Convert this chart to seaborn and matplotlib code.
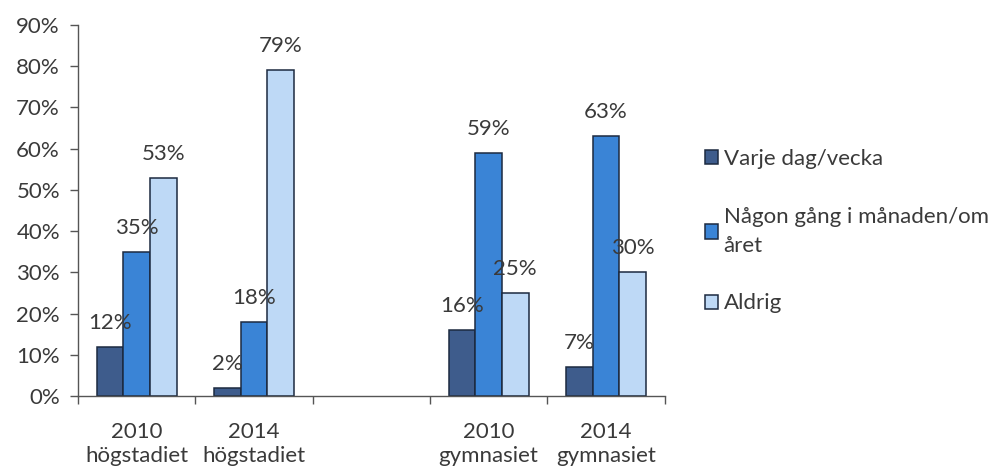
#!/usr/bin/env python3

import pandas as pd
import seaborn as sns
import matplotlib.pyplot as plt
from matplotlib.ticker import FixedLocator

# categories along the x axis (the blank one is the gap between the school levels)
categories = ["2010\nhögstadiet", "2014\nhögstadiet", " ", "2010\ngymnasiet", "2014\ngymnasiet"]
series = ["Varje dag/vecka", "Någon gång i månaden/om\nåret", "Aldrig"]

# percent per series, one value per non-empty category
varje = [12, 2, 16, 7]
nagon = [35, 18, 59, 63]
aldrig = [53, 79, 25, 30]
filled = ["2010\nhögstadiet", "2014\nhögstadiet", "2010\ngymnasiet", "2014\ngymnasiet"]

colors = ["#3e5c8c", "#3a84d6", "#bed9f6"]
text_color = "#3a3a3a"
fs = 16


def build_frame():
    rows = []
    for name, vals in zip(series, [varje, nagon, aldrig]):
        for cat, v in zip(filled, vals):
            rows.append({"Kategori": cat, "Svar": name, "Andel": v})
    return pd.DataFrame(rows)


def main():
    sns.set_style("white")
    plt.rcParams["font.family"] = ["Lato", "DejaVu Sans"]

    df = build_frame()
    fig = plt.figure(figsize=(10.07, 4.72), dpi=100)
    ax = fig.add_axes([0.0775, 0.161, 0.5825, 0.786])

    sns.barplot(
        df, x="Kategori", y="Andel", hue="Svar", order=categories,
        hue_order=series, palette=colors, saturation=1, width=0.68,
        edgecolor="#1c2a40", linewidth=1.1, errorbar=None, ax=ax,
    )

    for cont in ax.containers:
        ax.bar_label(cont, fmt="{:.0f}%", padding=10, fontsize=fs, color=text_color)

    ax.set_xlim(-0.5, len(categories) - 0.5)
    ax.set_ylim(0, 90)
    ax.set_yticks(range(0, 91, 10))
    ax.set_yticklabels([f"{v}%" for v in range(0, 91, 10)])
    ax.set_xlabel("")
    ax.set_ylabel("")

    # tick marks sit on the category boundaries, labels in the middle
    ax.xaxis.set_minor_locator(FixedLocator([i - 0.5 for i in range(len(categories) + 1)]))
    ax.tick_params(axis="x", which="major", length=0, pad=19, labelsize=fs, labelcolor=text_color)
    ax.tick_params(axis="x", which="minor", length=6, width=1, color="#555555", direction="out", bottom=True)
    ax.tick_params(axis="y", length=6, width=1, color="#555555", direction="out", left=True,
                   labelsize=fs, labelcolor=text_color, pad=7)
    for lbl in ax.get_xticklabels():
        lbl.set_linespacing(1.25)

    sns.despine(ax=ax)
    for side in ["left", "bottom"]:
        ax.spines[side].set_color("#555555")
        ax.spines[side].set_linewidth(1)

    handles, labels = ax.get_legend_handles_labels()
    leg = ax.legend(
        handles, labels, loc="center left", bbox_to_anchor=(0.68, 0.51),
        bbox_transform=fig.transFigure, frameon=False, fontsize=fs,
        handlelength=0.6, handleheight=0.6, handletextpad=0.25,
        labelspacing=1.7, labelcolor=text_color,
    )
    for t in leg.get_texts():
        t.set_linespacing(1.55)

    fig.savefig("out.png", dpi=100)


if __name__ == "__main__":
    main()
